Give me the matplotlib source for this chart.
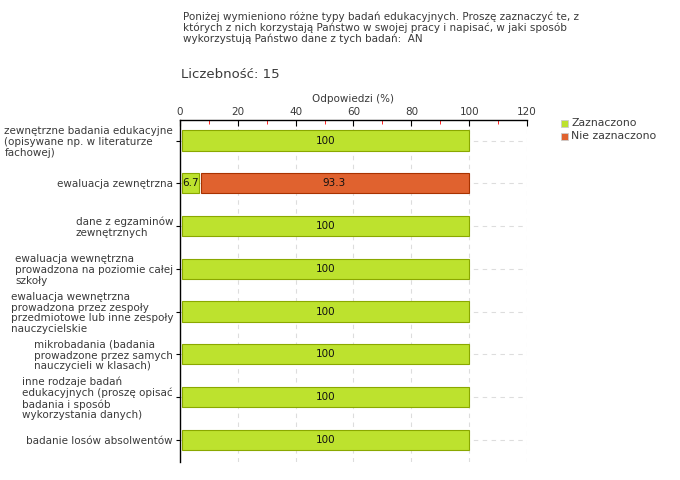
import matplotlib.pyplot as plt
from matplotlib.ticker import MultipleLocator

categories = [
    "zewnętrzne badania edukacyjne\n(opisywane np. w literaturze\nfachowej)",
    "ewaluacja zewnętrzna",
    "dane z egzaminów\nzewnętrznych",
    "ewaluacja wewnętrzna\nprowadzona na poziomie całej\nszkoły",
    "ewaluacja wewnętrzna\nprowadzona przez zespoły\nprzedmiotowe lub inne zespoły\nnauczycielskie",
    "mikrobadania (badania\nprowadzone przez samych\nnauczycieli w klasach)",
    "inne rodzaje badań\nedukacyjnych (proszę opisać\nbadania i sposób\nwykorzystania danych)",
    "badanie losów absolwentów",
]
zaznaczono = [100, 6.7, 100, 100, 100, 100, 100, 100]
nie_zaznaczono = [0, 93.3, 0, 0, 0, 0, 0, 0]
series_names = ["Zaznaczono", "Nie zaznaczono"]

title = ("Poniżej wymieniono różne typy badań edukacyjnych. Proszę zaznaczyć te, z\n"
         "których z nich korzystają Państwo w swojej pracy i napisać, w jaki sposób\n"
         "wykorzystują Państwo dane z tych badań:  AN")
count_text = "Liczebność: 15"

green, green_e = "#bde22e", "#8aa800"
orange, orange_e = "#e0622f", "#a83200"
txt = "#3a3a3a"

fig = plt.figure(figsize=(6.8, 4.8), dpi=100)
ax = fig.add_axes([180/680, 1-462/480, 347/680, 342/480])

h = 0.47
gap = 0.7
for i, (a, b) in enumerate(zip(zaznaczono, nie_zaznaczono)):
    if a > 0:
        ax.barh(i, a - 0.6, left=0.6, height=h, color=green, edgecolor=green_e, lw=0.8, zorder=3)
        ax.text(a / 2 + 0.3, i, f"{a:g}", ha="center", va="center", fontsize=7.5, color="#111", zorder=4)
    if b > 0:
        ax.barh(i, b - gap, left=a + gap, height=h, color=orange, edgecolor=orange_e, lw=0.8, zorder=3)
        ax.text(a + b / 2, i, f"{b:g}", ha="center", va="center", fontsize=7.5, color="#111", zorder=4)

ax.set_xlim(0, 120)
ax.set_ylim(7.52, -0.48)
ax.set_yticks(range(len(categories)))
ax.set_yticklabels(categories, fontsize=7.5, color=txt, linespacing=1.1, multialignment="left")
ax.xaxis.set_major_locator(MultipleLocator(20))
ax.xaxis.set_minor_locator(MultipleLocator(10))
ax.xaxis.tick_top()
ax.xaxis.set_label_position("top")
ax.tick_params(axis="x", which="major", direction="in", length=4, color="black", labelsize=7.5,
               labelcolor=txt, pad=2)
ax.tick_params(axis="x", which="minor", direction="in", length=3, color="red")
ax.tick_params(axis="y", direction="out", length=3, pad=2)
ax.set_xlabel("Odpowiedzi (%)", fontsize=7.5, color=txt, labelpad=4)

for s in ["right", "bottom"]:
    ax.spines[s].set_visible(False)
ax.spines["top"].set_linewidth(1)
ax.spines["left"].set_linewidth(1)

for x in range(20, 121, 20):
    ax.axvline(x, color="#dddddd", ls=(0, (4, 4)), lw=0.8, zorder=1)
for i in range(len(categories)):
    ax.axhline(i, color="#dddddd", ls=(0, (4, 4)), lw=0.8, zorder=1)

fig.text(183/680, 1-12/480, title, fontsize=7.5, color=txt, va="top", ha="left", linespacing=1.02)
fig.text(181/680, 1-75/480, count_text, fontsize=9.5, color=txt, va="center", ha="left")

for j, (name, c, e) in enumerate(zip(series_names, [green, orange], [green_e, orange_e])):
    y = 1 - (123 + j * 13) / 480
    fig.patches.append(plt.Rectangle((561/680, y - 3.5/480), 7/680, 7/480, facecolor=c,
                                     edgecolor="#cccccc", lw=0.6, transform=fig.transFigure))
    fig.text(571/680, y, name, fontsize=7.8, color=txt, va="center", ha="left")

fig.savefig("out.png", dpi=100)
